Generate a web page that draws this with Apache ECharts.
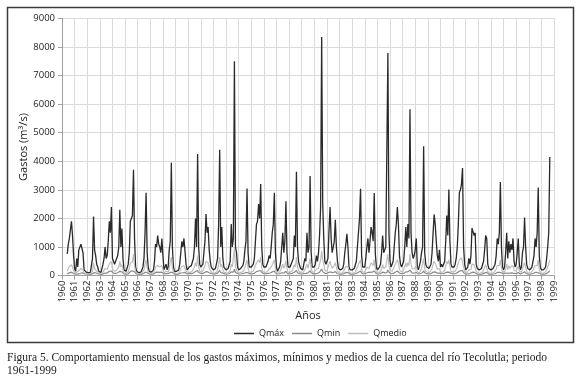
<!DOCTYPE html>
<html><head><meta charset="utf-8">
<script src="https://cdn.jsdelivr.net/npm/echarts@6/dist/echarts.min.js"></script>
<style>html,body{margin:0;padding:0;background:#fff}#c{width:580px;height:387px}</style>
</head><body><div id="c"></div>
<script>
// Tick labels (years on the category axis)
const years = [1960,1961,1962,1963,1964,1965,1966,1967,1968,1969,1970,1971,1972,1973,1974,1975,1976,1977,1978,1979,
  1980,1981,1982,1983,1984,1985,1986,1987,1988,1989,1990,1991,1992,1993,1994,1995,1996,1997,1998,1999];
const yTicks = [0,1000,2000,3000,4000,5000,6000,7000,8000,9000];
const seriesNames = ['Qmáx','Qmin','Qmedio'];

// Monthly values (m3/s), one row per year, starting Jan 1960
const qmax = [
  null,null,null,null,null,760,1100,1300,1350,1900,1400,700,
  250,150,600,300,900,950,1100,1050,800,200,150,120,
  120,100,100,110,150,600,2070,900,700,400,300,150,
  120,100,150,400,600,1000,600,700,1200,1900,1500,2400,
  600,600,400,500,600,700,1000,2300,1000,1650,600,200,
  200,150,200,400,800,1900,2000,2100,3700,1300,300,150,
  120,100,100,120,200,300,600,1500,2900,800,300,150,
  150,120,120,200,500,1100,1000,1400,1100,1000,800,1300,
  700,200,150,400,200,300,900,1200,3950,1000,300,150,
  150,150,150,200,400,800,1200,1000,1300,1250,400,200,
  250,300,250,350,400,600,1000,2000,1000,4250,1000,400,
  300,300,400,800,1200,2150,1500,1700,900,500,300,250,
  200,200,250,300,600,1800,4400,1000,1700,600,300,250,
  200,200,250,300,500,1800,1000,1300,7500,1000,800,300,
  200,200,250,300,350,500,900,1200,3050,800,300,250,
  300,300,400,600,1200,1800,1900,2500,2000,3200,1000,400,
  300,250,300,350,500,700,600,1000,1500,1800,2900,800,
  300,150,200,300,500,1000,1500,800,1200,2600,800,300,
  300,300,250,500,600,1400,1000,3630,1000,500,350,250,
  200,200,400,600,500,1500,800,1000,3480,800,300,250,
  300,400,700,500,800,1400,2400,8350,2500,1300,500,400,
  400,600,1600,2400,1300,800,1000,1200,1950,1000,500,250,
  200,200,200,250,400,800,1100,1460,1000,300,200,200,
  200,200,250,300,500,1000,1500,2000,3040,700,300,250,
  300,600,1000,1300,800,1200,1700,1500,1200,2890,800,300,
  200,200,300,400,800,1400,800,900,1000,1000,7790,1500,
  500,300,400,500,1000,1500,1800,2400,1800,700,400,300,
  300,500,1000,1700,1000,1800,1300,5820,1500,800,600,700,
  900,1300,300,200,250,500,800,1000,4520,800,400,300,
  250,250,300,400,800,1500,2140,1800,1200,700,500,900,
  300,400,300,300,500,1200,2100,1400,3010,1200,400,300,
  300,300,400,600,1000,1800,2900,3000,3200,3760,1000,400,
  200,200,300,600,400,700,1660,1600,1400,1500,400,250,
  200,200,200,250,300,500,900,1400,1300,400,250,200,
  200,200,250,300,400,700,1300,1100,1500,3270,1000,300,
  200,300,800,1500,600,1200,800,1100,900,1300,500,300,
  400,800,1300,400,200,300,800,1000,2030,1000,400,250,
  200,200,250,300,500,700,1300,1000,1500,3080,700,300,
  200,200,200,250,300,600,1000,1500,4150
];
const qmin = [
  null,null,null,null,null,60,85,95,100,120,90,70,
  60,55,50,50,60,75,95,100,90,70,60,55,
  50,45,45,45,50,70,130,110,95,80,65,55,
  50,45,50,60,70,90,85,90,120,150,140,160,
  100,85,70,75,85,100,120,150,110,130,90,60,
  55,50,50,60,90,140,160,170,200,130,80,55,
  50,45,45,45,50,60,85,120,160,100,70,60,
  55,50,50,55,80,110,100,120,110,115,100,120,
  80,55,55,70,60,65,95,110,170,110,70,55,
  50,50,50,55,70,90,110,100,120,115,75,60,
  65,70,65,70,75,90,110,140,110,180,110,80,
  75,70,75,100,120,150,140,130,100,80,70,65,
  60,55,60,65,85,130,180,110,130,85,65,60,
  55,55,60,65,80,130,110,120,220,120,100,65,
  60,55,60,65,70,80,100,110,160,100,70,60,
  65,65,75,80,110,140,150,160,140,180,110,70,
  70,65,65,70,80,95,90,110,130,140,160,90,
  60,55,55,65,80,100,120,90,110,150,100,60,
  65,65,60,80,85,120,110,180,110,80,70,60,
  55,55,70,85,80,120,95,100,170,100,70,60,
  65,70,90,80,100,120,160,230,140,160,80,75,
  75,85,120,150,120,95,100,110,140,100,65,60,
  55,50,50,55,70,95,110,120,105,65,55,50,
  50,50,55,60,75,100,120,140,160,90,65,55,
  60,80,100,110,95,110,130,120,110,160,100,65,
  55,55,60,70,90,120,90,95,100,100,200,120,
  80,65,70,75,100,120,140,160,140,90,70,65,
  65,75,100,130,100,130,110,190,130,95,85,90,
  100,110,65,55,55,75,90,100,170,100,70,65,
  60,60,65,70,90,120,140,130,110,85,75,90,
  65,70,65,65,75,110,140,120,160,110,70,65,
  65,65,70,80,100,130,160,170,175,180,100,70,
  55,55,60,80,70,85,120,125,115,120,70,60,
  50,50,50,55,60,75,95,115,110,70,55,50,
  50,50,55,60,65,85,110,100,110,160,100,65,
  55,60,90,120,80,110,90,105,95,110,75,65,
  70,90,110,70,55,60,90,100,130,100,70,55,
  50,50,55,60,75,85,110,100,110,150,85,55,
  50,50,50,55,60,80,100,130,170
];
const qmedio = [
  null,null,null,null,null,150,250,320,330,380,300,180,
  100,80,120,100,180,200,250,250,200,100,80,70,
  70,60,60,70,80,150,450,250,200,150,120,90,
  80,70,80,120,180,250,200,220,320,420,380,500,
  220,200,150,180,200,220,300,500,300,380,200,100,
  90,80,90,130,250,450,480,500,750,350,150,90,
  70,60,60,70,90,120,200,400,550,250,120,90,
  80,70,70,90,180,300,280,350,300,300,280,350,
  220,100,90,150,100,120,250,300,650,280,130,80,
  80,70,70,90,150,250,320,300,350,320,150,100,
  110,130,110,140,160,200,300,450,320,700,300,160,
  130,120,150,250,350,500,450,450,280,180,120,100,
  100,90,100,120,200,400,650,300,400,200,120,100,
  90,90,100,120,180,400,300,350,950,300,280,120,
  100,90,100,120,140,180,280,320,550,250,130,100,
  120,120,150,200,350,450,500,550,450,650,300,130,
  120,110,120,130,180,230,200,300,380,420,550,250,
  100,80,90,120,180,300,400,250,350,520,250,110,
  120,120,110,180,200,380,300,650,300,180,130,100,
  90,90,150,200,180,400,250,300,600,250,120,100,
  120,150,230,180,250,400,550,850,550,400,180,150,
  150,200,400,500,350,250,300,350,450,300,150,100,
  90,80,80,100,150,250,320,380,300,120,90,80,
  80,80,100,120,180,300,400,450,550,220,120,100,
  120,200,300,350,250,350,450,400,350,550,250,120,
  90,90,120,150,250,380,250,280,300,300,750,350,
  180,120,150,180,300,400,450,550,450,220,150,120,
  120,180,300,450,300,450,350,750,400,250,200,220,
  250,350,120,90,100,180,250,300,600,250,150,120,
  100,100,120,150,250,400,500,450,350,220,180,250,
  120,150,120,120,180,350,500,400,550,350,150,120,
  120,120,150,200,300,450,550,600,620,680,300,150,
  90,90,120,200,150,220,400,420,380,400,150,100,
  80,80,80,100,120,180,280,380,350,150,100,80,
  80,80,100,120,150,220,350,300,350,550,300,120,
  90,120,250,400,200,350,250,320,280,350,180,120,
  150,250,350,150,90,120,250,300,450,300,150,100,
  80,80,100,120,180,230,350,300,350,550,220,100,
  80,80,80,100,120,200,300,400,550
];

// Monthly categories: Jan 1960 ... Jan 1999
const categories = [];
years.forEach(function (y) {
  const n = (y === years[years.length - 1]) ? 1 : 12;
  for (let m = 1; m <= n; m++) categories.push(y + '-' + (m < 10 ? '0' + m : m));
});
const yearStart = function (i) { return i % 12 === 0; };

const chart = echarts.init(document.getElementById('c'), null, {renderer: 'canvas'});
const font = 'Open Sans, Noto Sans, sans-serif';
chart.setOption({
  animation: false,
  backgroundColor: '#fff',
  grid: {left: 62, right: 26, top: 18.3, bottom: 111.4, containLabel: false},
  legend: {
    data: seriesNames, top: 324, left: 229, icon: 'rect',
    itemWidth: 20, itemHeight: 1.5, itemGap: 8,
    textStyle: {fontSize: 9, color: '#222', fontFamily: font}
  },
  xAxis: {
    type: 'category', data: categories, boundaryGap: false,
    name: 'Años', nameLocation: 'middle', nameGap: 33,
    nameTextStyle: {fontSize: 11, color: '#222', fontFamily: font},
    axisLine: {lineStyle: {color: '#a0a0a0', width: 1}},
    axisTick: {show: true, interval: yearStart, length: 4, lineStyle: {color: '#a0a0a0'}},
    axisLabel: {interval: yearStart, rotate: 90, fontSize: 9.5, color: '#222', margin: 5, fontFamily: font,
      formatter: function (v) { return v.slice(0, 4); }},
    splitLine: {show: true, interval: yearStart, lineStyle: {color: '#dadada', width: 1}}
  },
  yAxis: {
    type: 'value', min: yTicks[0], max: yTicks[yTicks.length - 1], interval: yTicks[1] - yTicks[0],
    axisLine: {show: true, lineStyle: {color: '#a0a0a0'}},
    axisTick: {show: true, length: 4, lineStyle: {color: '#a0a0a0'}},
    axisLabel: {fontSize: 9.5, color: '#222', margin: 7, fontFamily: font,
      formatter: function (v) { return String(v); }},
    splitLine: {show: true, lineStyle: {color: '#dadada', width: 1}}
  },
  series: [
    {name: seriesNames[0], type: 'line', data: qmax, showSymbol: false, symbol: 'none', connectNulls: false,
      lineStyle: {color: '#2a2a2a', width: 1.3}, itemStyle: {color: '#2a2a2a'}},
    {name: seriesNames[1], type: 'line', data: qmin, showSymbol: false, symbol: 'none',
      lineStyle: {color: '#8a8a8a', width: 1.2}, itemStyle: {color: '#8a8a8a'}},
    {name: seriesNames[2], type: 'line', data: qmedio, showSymbol: false, symbol: 'none',
      lineStyle: {color: '#bdbdbd', width: 1.2}, itemStyle: {color: '#bdbdbd'}}
  ],
  graphic: [
    {type: 'text', x: 24, y: 147, rotation: Math.PI / 2, silent: true,
      style: {text: 'Gastos (m³/s)', font: '11px "Open Sans", sans-serif', fill: '#222',
        align: 'center', verticalAlign: 'middle'}},
    {type: 'rect', left: 5, top: 5, silent: true, z: 100,
      shape: {x: 0, y: 0, width: 566, height: 335},
      style: {fill: 'none', stroke: '#3a3a3a', lineWidth: 1.5}},
    {type: 'text', left: 7, top: 352, silent: true,
      style: {text: 'Figura 5. Comportamiento mensual de los gastos máximos, mínimos y medios de la cuenca del río Tecolutla; periodo\n1961-1999',
        font: '11.5px "Liberation Serif", serif', fill: '#222', lineHeight: 12.5}}
  ]
});
</script></body></html>
